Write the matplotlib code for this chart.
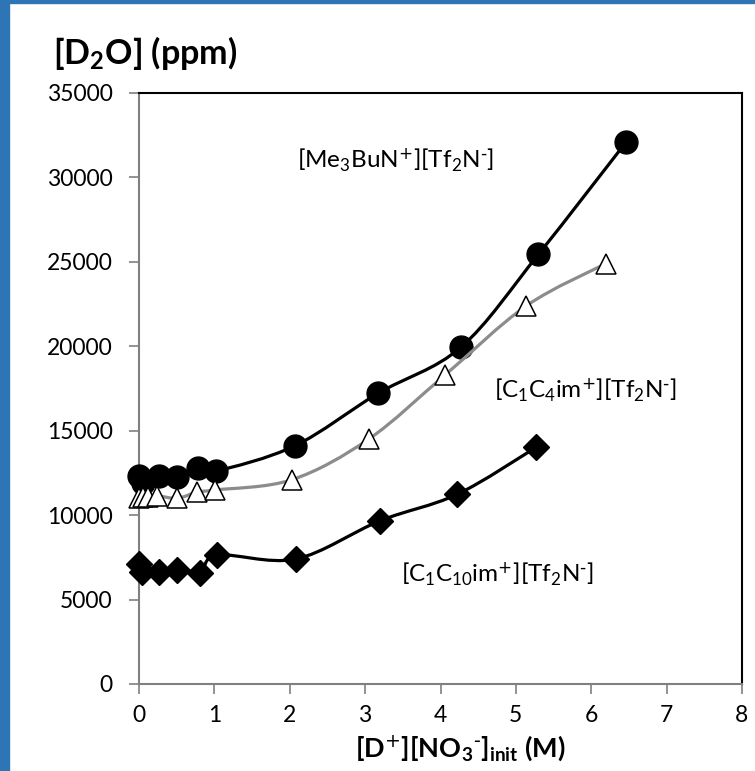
import numpy as np
import matplotlib
matplotlib.use("Agg")
import matplotlib.pyplot as plt
from matplotlib.path import Path
from matplotlib.patches import PathPatch, Rectangle

plt.rcParams['font.family'] = ['Lato', 'DejaVu Sans']
plt.rcParams['mathtext.default'] = 'regular'

# [Me3BuN+][Tf2N-]
me3bun_x = [0.0, 0.05, 0.26, 0.51, 0.78, 1.02, 2.07, 3.17, 4.27, 5.30, 6.46]
me3bun_y = [12300, 11900, 12330, 12240, 12770, 12610, 14110, 17210, 19940, 25450, 32080]

# [C1C4im+][Tf2N-]
c4_x = [0.0, 0.05, 0.12, 0.24, 0.51, 0.77, 1.01, 2.03, 3.05, 4.06, 5.14, 6.19]
c4_y = [11000, 11050, 11100, 11150, 11000, 11370, 11490, 12100, 14510, 18300, 22400, 24890]

# [C1C10im+][Tf2N-]
c10_x = [0.0, 0.04, 0.26, 0.50, 0.81, 1.04, 2.08, 3.20, 4.22, 5.27]
c10_y = [7100, 6650, 6650, 6750, 6590, 7640, 7400, 9670, 11230, 14020]

x_ticks = [0, 1, 2, 3, 4, 5, 6, 7, 8]
y_ticks = [0, 5000, 10000, 15000, 20000, 25000, 30000, 35000]

SUP_P = r'$^{\text{+}}$'
SUP_M = r'$^{\text{-}}$'


def smooth_path(xs, ys):
    # Excel-style smoothed line: cubic Bezier through every point
    pts = np.column_stack([xs, ys]).astype(float)
    n = len(pts)
    verts = [pts[0]]
    codes = [Path.MOVETO]
    for i in range(n - 1):
        p0 = pts[max(i - 1, 0)]
        p1 = pts[i]
        p2 = pts[i + 1]
        p3 = pts[min(i + 2, n - 1)]
        c1 = p1 + (p2 - p0) / 6.0
        c2 = p2 - (p3 - p1) / 6.0
        verts += [c1, c2, p2]
        codes += [Path.CURVE4] * 3
    return Path(verts, codes)


fig = plt.figure(figsize=(7.55, 7.71), dpi=100)
fig.patches.append(Rectangle((0, 0), 9 / 755, 1, transform=fig.transFigure,
                             color='#2e75b6', zorder=0))
fig.patches.append(Rectangle((0, 1 - 3 / 771), 1, 3 / 771, transform=fig.transFigure,
                             color='#2e75b6', zorder=0))

ax = fig.add_axes([139 / 755, 1 - 684 / 771, (742 - 139) / 755, (684 - 93) / 771])

ax.add_patch(PathPatch(smooth_path(me3bun_x, me3bun_y), fill=False, ec='black', lw=2.3, zorder=2))
ax.plot(me3bun_x, me3bun_y, 'o', ms=16.5, color='black', zorder=3, clip_on=False)

ax.add_patch(PathPatch(smooth_path(c4_x, c4_y), fill=False, ec='#8c8c8c', lw=2.3, zorder=4))
ax.plot(c4_x, c4_y, '^', ms=15, mfc='white', mec='black', mew=1.1, zorder=5, clip_on=False)

ax.add_patch(PathPatch(smooth_path(c10_x, c10_y), fill=False, ec='black', lw=2.3, zorder=6))
ax.plot(c10_x, c10_y, 'D', ms=13.5, color='black', zorder=7, clip_on=False)

ax.set_xlim(0, 8)
ax.set_ylim(0, 35000)
ax.set_xticks(x_ticks)
ax.set_yticks(y_ticks)
ax.tick_params(direction='out', length=7, width=1.2, color='#808080',
               labelsize=16.5)
ax.tick_params(axis='y', pad=12)
ax.tick_params(axis='x', pad=8)
for s in ['left', 'bottom']:
    ax.spines[s].set_color('#808080')
    ax.spines[s].set_linewidth(1.5)
for s in ['top', 'right']:
    ax.spines[s].set_color('black')
    ax.spines[s].set_linewidth(1.5)

ax.text(3.4, 31000, '[Me$_3$BuN' + SUP_P + '][Tf$_2$N' + SUP_M + ']',
        fontsize=17.5, ha='center', va='center')
ax.text(5.92, 17400, '[C$_1$C$_4$im' + SUP_P + '][Tf$_2$N' + SUP_M + ']',
        fontsize=17.5, ha='center', va='center')
ax.text(4.75, 6500, '[C$_1$C$_{10}$im' + SUP_P + '][Tf$_2$N' + SUP_M + ']',
        fontsize=17.5, ha='center', va='center')

fig.text(145 / 755, 1 - 53 / 771, '[D$_2$O] (ppm)', fontsize=24.5, fontweight='bold',
         ha='center', va='center')
fig.text(460 / 755, 1 - 748 / 771, '[D' + SUP_P + '][NO$_3$' + SUP_M + ']$_{init}$ (M)',
         fontsize=19.5, fontweight='bold', ha='center', va='center')

fig.savefig('out.png', dpi=100)
